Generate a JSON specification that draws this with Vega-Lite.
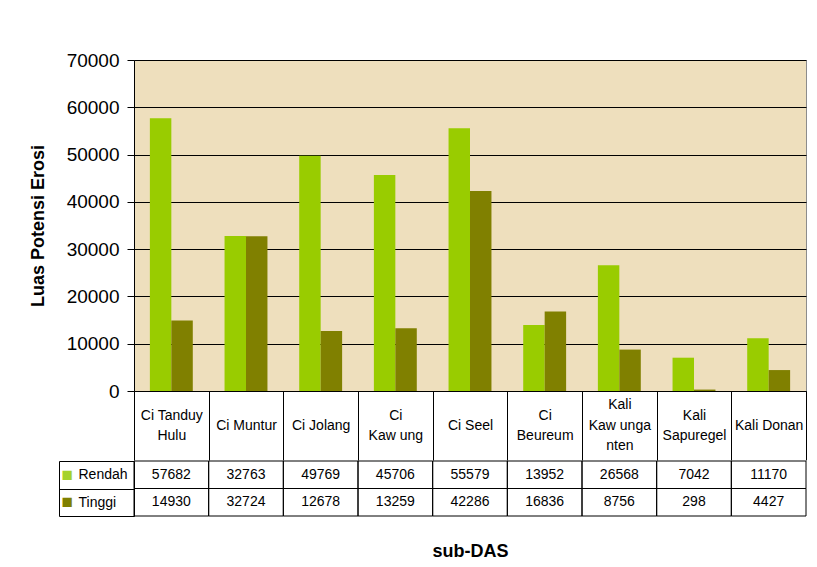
{
  "$schema": "https://vega.github.io/schema/vega-lite/v6.json",
  "background": "white",
  "padding": {"left": 28, "top": 50, "right": 5, "bottom": 5},
  "config": {
    "font": "Liberation Sans",
    "view": {"stroke": null},
    "axis": {"labelFont": "Liberation Sans", "titleFont": "Liberation Sans", "labelColor": "black", "titleColor": "black"}
  },
  "data": {
    "values": [
      {"sub_das": "Ci Tanduy Hulu", "kelas": "Rendah", "luas": 57682},
      {"sub_das": "Ci Muntur", "kelas": "Rendah", "luas": 32763},
      {"sub_das": "Ci Jolang", "kelas": "Rendah", "luas": 49769},
      {"sub_das": "Ci Kaw ung", "kelas": "Rendah", "luas": 45706},
      {"sub_das": "Ci Seel", "kelas": "Rendah", "luas": 55579},
      {"sub_das": "Ci Beureum", "kelas": "Rendah", "luas": 13952},
      {"sub_das": "Kali Kaw unganten", "kelas": "Rendah", "luas": 26568},
      {"sub_das": "Kali Sapuregel", "kelas": "Rendah", "luas": 7042},
      {"sub_das": "Kali Donan", "kelas": "Rendah", "luas": 11170},
      {"sub_das": "Ci Tanduy Hulu", "kelas": "Tinggi", "luas": 14930},
      {"sub_das": "Ci Muntur", "kelas": "Tinggi", "luas": 32724},
      {"sub_das": "Ci Jolang", "kelas": "Tinggi", "luas": 12678},
      {"sub_das": "Ci Kaw ung", "kelas": "Tinggi", "luas": 13259},
      {"sub_das": "Ci Seel", "kelas": "Tinggi", "luas": 42286},
      {"sub_das": "Ci Beureum", "kelas": "Tinggi", "luas": 16836},
      {"sub_das": "Kali Kaw unganten", "kelas": "Tinggi", "luas": 8756},
      {"sub_das": "Kali Sapuregel", "kelas": "Tinggi", "luas": 298},
      {"sub_das": "Kali Donan", "kelas": "Tinggi", "luas": 4427}
    ]
  },
  "spacing": -8,
  "vconcat": [
    {
      "width": 672,
      "height": 331,
      "view": {"fill": "#EEDFBD", "stroke": "#8C8C8C", "strokeWidth": 1},
      "mark": {"type": "bar"},
      "encoding": {
        "x": {
          "field": "sub_das",
          "type": "nominal",
          "scale": {
            "domain": ["Ci Tanduy Hulu", "Ci Muntur", "Ci Jolang", "Ci Kaw ung", "Ci Seel", "Ci Beureum", "Kali Kaw unganten", "Kali Sapuregel", "Kali Donan"],
            "paddingInner": 0,
            "paddingOuter": 0
          },
          "axis": {
            "title": null,
            "tickBand": "extent",
            "tickSize": 69,
            "tickColor": "black",
            "domainColor": "black",
            "labelAngle": 0,
            "labelFontSize": 14,
            "labelBaseline": "middle",
            "labelPadding": {
              "condition": [
                {"test": "datum.value === 'Kali Kaw unganten'", "value": -55.5},
                {"test": "indexof(['Ci Tanduy Hulu', 'Ci Kaw ung', 'Ci Beureum', 'Kali Sapuregel'], datum.value) >= 0", "value": -45}
              ],
              "value": -35
            },
            "labelLineHeight": 20.5,
            "labelExpr": "datum.value === 'Ci Tanduy Hulu' ? ['Ci Tanduy', 'Hulu'] : datum.value === 'Ci Kaw ung' ? ['Ci', 'Kaw ung'] : datum.value === 'Ci Beureum' ? ['Ci', 'Beureum'] : datum.value === 'Kali Kaw unganten' ? ['Kali', 'Kaw unga', 'nten'] : datum.value === 'Kali Sapuregel' ? ['Kali', 'Sapuregel'] : datum.value"
          }
        },
        "xOffset": {
          "field": "kelas",
          "type": "nominal",
          "scale": {"domain": ["Rendah", "Tinggi"], "paddingInner": 0, "paddingOuter": 0.74}
        },
        "y": {
          "field": "luas",
          "type": "quantitative",
          "scale": {"domain": [0, 70000], "nice": false},
          "axis": {
            "title": "Luas Potensi Erosi",
            "titleFontSize": 18,
            "titleFontWeight": "bold",
            "titlePadding": 19,
            "values": [0, 10000, 20000, 30000, 40000, 50000, 60000, 70000],
            "format": "d",
            "labelFontSize": 19,
            "labelPadding": 8,
            "tickSize": 7,
            "tickColor": "black",
            "domainColor": "black",
            "gridColor": "black",
            "gridOpacity": 1
          }
        },
        "color": {
          "field": "kelas",
          "type": "nominal",
          "scale": {"domain": ["Rendah", "Tinggi"], "range": ["#99CC00", "#808000"]},
          "legend": null
        }
      }
    },
    {
      "width": 672,
      "height": 55,
      "view": {"stroke": null},
      "encoding": {
        "x": {
          "field": "sub_das",
          "type": "nominal",
          "scale": {
            "domain": ["Ci Tanduy Hulu", "Ci Muntur", "Ci Jolang", "Ci Kaw ung", "Ci Seel", "Ci Beureum", "Kali Kaw unganten", "Kali Sapuregel", "Kali Donan"],
            "paddingInner": 0,
            "paddingOuter": 0
          },
          "axis": {
            "title": "sub-DAS",
            "titleFontSize": 18,
            "titleFontWeight": "bold",
            "titlePadding": 26,
            "labels": false,
            "ticks": false,
            "domain": false
          }
        }
      },
      "layer": [
        {
          "mark": {"type": "rect", "fill": "transparent", "stroke": "black", "strokeWidth": 1},
          "encoding": {
            "y": {
              "field": "kelas",
              "type": "nominal",
              "scale": {"domain": ["Rendah", "Tinggi"], "paddingInner": 0, "paddingOuter": 0},
              "axis": {
                "title": null,
                "orient": "left",
                "tickBand": "extent",
                "tickSize": 75,
                "tickColor": "black",
                "domainColor": "black",
                "labelAlign": "left",
                "labelBaseline": "middle",
                "labelPadding": -19,
                "labelFontSize": 14
              }
            }
          }
        },
        {
          "mark": {"type": "text", "fontSize": 14, "color": "black", "align": "center", "baseline": "middle"},
          "encoding": {
            "y": {
              "field": "kelas",
              "type": "nominal",
              "axis": {
                "title": null,
                "orient": "left",
                "offset": 75,
                "ticks": false,
                "domainColor": "black",
                "labelExpr": "'■'",
                "labelAlign": "left",
                "labelBaseline": "middle",
                "labelPadding": -2,
                "labelFontSize": 19,
                "labelColor": {"condition": {"test": "datum.value === 'Rendah'", "value": "#A6D22A"}, "value": "#808000"}
              }
            },
            "text": {"field": "luas", "type": "quantitative", "format": "d"}
          }
        }
      ],
      "resolve": {"axis": {"y": "independent"}}
    }
  ]
}
